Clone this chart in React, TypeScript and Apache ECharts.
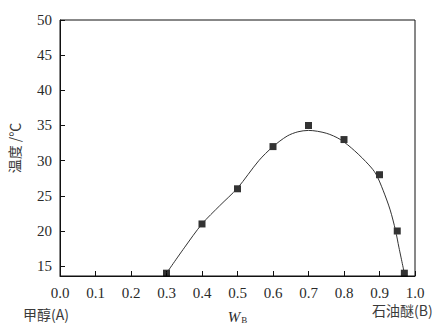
import React, { useEffect, useRef } from "react";
import * as echarts from "echarts";

const pointX = [0.3, 0.4, 0.5, 0.6, 0.7, 0.8, 0.9, 0.95, 0.97];
const pointY = [14, 21, 26, 32, 35, 33, 28, 20, 14];

const curveX = [0.3, 0.35, 0.4, 0.45, 0.5, 0.56, 0.6, 0.64, 0.67, 0.7, 0.75, 0.79, 0.83, 0.87, 0.89, 0.91, 0.93, 0.945, 0.955, 0.97];
const curveY = [14.0, 17.6, 21.0, 23.6, 26.1, 30.0, 32.0, 33.5, 34.1, 34.3, 33.9, 33.0, 31.4, 29.4, 28.1, 25.8, 23.0, 20.1, 17.6, 14.0];

const xTicks = [0, 0.1, 0.2, 0.3, 0.4, 0.5, 0.6, 0.7, 0.8, 0.9, 1.0];
const yTicks = [15, 20, 25, 30, 35, 40, 45, 50];

const serif = "'Liberation Serif', 'DejaVu Serif', serif";
const cjk = "'Noto Sans CJK SC', sans-serif";

export default function App() {
  const ref = useRef<HTMLDivElement>(null);
  useEffect(() => {
    if (!ref.current) return;
    const chart = echarts.init(ref.current, null, { renderer: "svg" });
    chart.setOption({
      animation: false,
      backgroundColor: "#fff",
      grid: {
        left: 60,
        top: 20,
        right: 32,
        bottom: 53,
        containLabel: false,
        outerBoundsMode: "none",
        show: true,
        borderColor: "#111",
        borderWidth: 1,
      },
      xAxis: {
        type: "value",
        min: 0,
        max: 1,
        interval: 0.1,
        axisLine: { lineStyle: { color: "#111", width: 1 } },
        axisTick: { inside: true, length: 5, lineStyle: { color: "#111" } },
        splitLine: { show: false },
        axisLabel: {
          color: "#2a2a2a",
          fontFamily: serif,
          fontSize: 15,
          margin: 9,
          formatter: (v: number) => v.toFixed(1),
          customValues: xTicks,
        },
        name: "{w|W}{b|B}",
        nameLocation: "middle",
        nameGap: 33,
        nameTextStyle: {
          rich: {
            w: { fontFamily: serif, fontStyle: "italic", fontSize: 15, color: "#2a2a2a" },
            b: { fontFamily: serif, fontSize: 9, color: "#2a2a2a", verticalAlign: "bottom", padding: [6, 0, 0, 1] },
          },
        },
      },
      yAxis: {
        type: "value",
        min: 13.6,
        max: 50,
        axisLine: { show: true, lineStyle: { color: "#111", width: 1 } },
        axisTick: { show: true, inside: true, length: 5, lineStyle: { color: "#111" }, customValues: yTicks },
        splitLine: { show: false },
        axisLabel: {
          color: "#2a2a2a",
          fontFamily: serif,
          fontSize: 15,
          margin: 8,
          customValues: yTicks,
        },
        name: "温度 /℃",
        nameLocation: "middle",
        nameGap: 39,
        nameRotate: 90,
        nameTextStyle: { fontFamily: cjk, fontSize: 14, color: "#3a3a3a" },
      },
      graphic: [
        {
          type: "text",
          left: 23,
          top: 307,
          style: { text: "甲醇(A)", font: `14px ${cjk}`, fill: "#3a3a3a" },
        },
        {
          type: "text",
          left: 372,
          top: 303,
          style: { text: "石油醚(B)", font: `14px ${cjk}`, fill: "#3a3a3a" },
        },
      ],
      series: [
        {
          type: "line",
          data: curveX.map((x, i) => [x, curveY[i]]),
          smooth: 0.3,
          showSymbol: false,
          lineStyle: { color: "#333", width: 1 },
          silent: true,
        },
        {
          type: "scatter",
          data: pointX.map((x, i) => [x, pointY[i]]),
          symbol: "rect",
          symbolSize: 7,
          itemStyle: { color: "#000" },
        },
      ],
    });
    return () => chart.dispose();
  }, []);
  return <div ref={ref} style={{ width: 447, height: 329, position: "absolute", left: 0, top: 0 }} />;
}
